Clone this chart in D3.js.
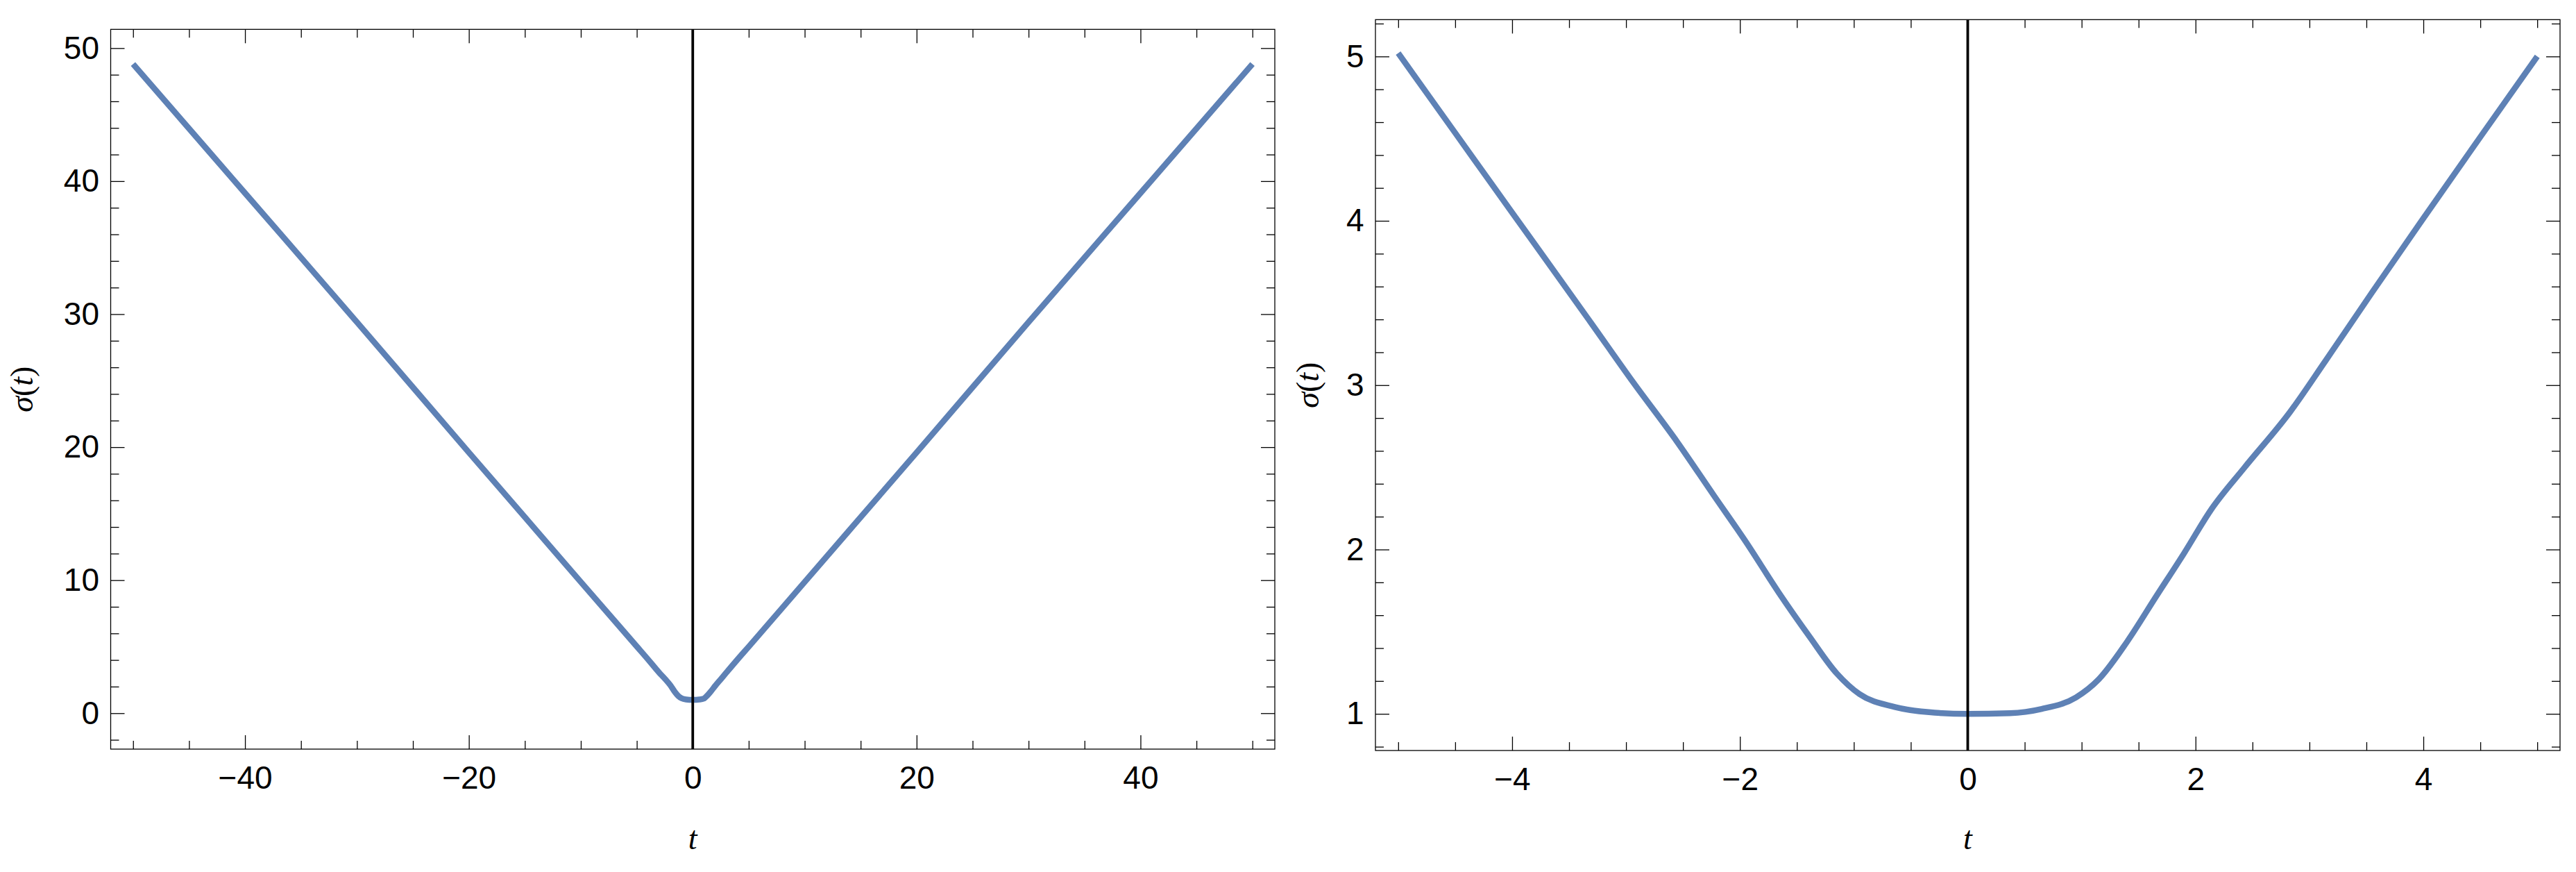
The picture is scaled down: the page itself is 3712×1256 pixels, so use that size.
<!DOCTYPE html>
<html>
<head>
<meta charset="utf-8">
<script src="https://cdn.jsdelivr.net/npm/d3@7"></script>
<style>
  html, body { margin: 0; padding: 0; background: #fff; }
  svg { display: block; }
  .tick text { font-family: "Liberation Sans", Arial, sans-serif; font-size: 46px; fill: #000; }
  .lab { font-family: "Liberation Serif", "Times New Roman", serif; font-size: 46px; fill: #000; }
</style>
</head>
<body>
<svg id="chart" width="3712" height="1256"></svg>
<script>
// ---------- data ----------
// Left panel: t from -50 to 50
const leftT     = [-50, -40, -30, -20, -10, -5, -4, -3, -2.5, -2, -1.6, -1.3, -1, -0.6, 0, 0.6, 1, 1.3, 1.6, 2, 2.5, 3, 4, 5, 10, 20, 30, 40, 50];
const leftSigma = [48.8, 39.1, 29.4, 19.6, 9.87, 5.02, 4.05, 3.05, 2.6, 2.1, 1.6, 1.3, 1.12, 1.03, 1.0, 1.03, 1.1, 1.33, 1.62, 2.05, 2.55, 3.05, 4.04, 5.0, 9.87, 19.6, 29.4, 39.1, 48.8];

// Right panel: t from -5 to 5
const rightT     = [-5, -4.5, -4, -3.67, -3.3, -2.94, -2.55, -2.23, -1.95, -1.66, -1.39, -1.15, -0.95, -0.64, -0.34, 0, 0.37, 0.65, 0.95, 1.15, 1.4, 1.65, 1.9, 2.14, 2.43, 2.83, 3.14, 3.55, 4.0, 4.5, 5.0];
const rightSigma = [5.02, 4.535, 4.05, 3.731, 3.372, 3.02, 2.654, 2.33, 2.049, 1.739, 1.471, 1.246, 1.12, 1.042, 1.01, 1.0, 1.004, 1.03, 1.10, 1.21, 1.44, 1.71, 1.978, 2.246, 2.499, 2.837, 3.147, 3.565, 4.015, 4.51, 5.0];

// ticks
const leftXMajor  = [-40, -20, 0, 20, 40];
const leftXMinor  = d3.range(-50, 50.001, 5).filter(v => v % 20 !== 0);
const leftYMajor  = [0, 10, 20, 30, 40, 50];
const leftYMinor  = d3.range(-2, 50.001, 2).filter(v => v % 10 !== 0);
const rightXMajor = [-4, -2, 0, 2, 4];
const rightXMinor = d3.range(-5, 5.001, 0.5).filter(v => Math.abs(v % 2) > 1e-9);
const rightYMajor = [1, 2, 3, 4, 5];
const rightYMinor = d3.range(0.8, 5.2001, 0.2).filter(v => Math.abs(v - Math.round(v)) > 1e-6);

const xLabel = "t";

// ---------- drawing ----------
const svg = d3.select("#chart");
const fmt = d3.format("");
const blue = "#5E81B5";

function panel(cfg) {
  const { xDom, yDom, x0, x1, y0, y1, T, S, xMaj, xMin, yMaj, yMin, yLabX } = cfg;
  const x = d3.scaleLinear().domain(xDom).range([x0, x1]);
  const y = d3.scaleLinear().domain(yDom).range([y1, y0]);
  const g = svg.append("g");

  const style = sel => {
    sel.select(".domain").remove();
    sel.selectAll(".tick line").attr("stroke", "#000").attr("stroke-width", 1.3);
  };

  // bottom
  g.append("g").attr("transform", `translate(0,${y1})`)
    .call(d3.axisBottom(x).tickValues(xMaj).tickSize(-20).tickPadding(24.5).tickFormat(fmt)).call(style);
  g.append("g").attr("transform", `translate(0,${y1})`)
    .call(d3.axisBottom(x).tickValues(xMin).tickSize(-12).tickFormat("")).call(style);
  // top
  g.append("g").attr("transform", `translate(0,${y0})`)
    .call(d3.axisTop(x).tickValues(xMaj).tickSize(-20).tickFormat("")).call(style);
  g.append("g").attr("transform", `translate(0,${y0})`)
    .call(d3.axisTop(x).tickValues(xMin).tickSize(-12).tickFormat("")).call(style);
  // left
  g.append("g").attr("transform", `translate(${x0},0)`)
    .call(d3.axisLeft(y).tickValues(yMaj).tickSize(-20).tickPadding(16.5).tickFormat(fmt)).call(style);
  g.append("g").attr("transform", `translate(${x0},0)`)
    .call(d3.axisLeft(y).tickValues(yMin).tickSize(-12).tickFormat("")).call(style);
  // right
  g.append("g").attr("transform", `translate(${x1},0)`)
    .call(d3.axisRight(y).tickValues(yMaj).tickSize(-20).tickFormat("")).call(style);
  g.append("g").attr("transform", `translate(${x1},0)`)
    .call(d3.axisRight(y).tickValues(yMin).tickSize(-12).tickFormat("")).call(style);

  // frame
  g.append("rect").attr("x", x0).attr("y", y0).attr("width", x1 - x0).attr("height", y1 - y0)
    .attr("fill", "none").attr("stroke", "#000").attr("stroke-width", 1.3);

  // clip
  const cid = "clip" + Math.round(x0);
  svg.append("clipPath").attr("id", cid).append("rect")
    .attr("x", x0).attr("y", y0).attr("width", x1 - x0).attr("height", y1 - y0);

  // curve
  const data = T.map((t, i) => [t, S[i]]);
  g.append("path").datum(data)
    .attr("clip-path", `url(#${cid})`)
    .attr("fill", "none").attr("stroke", blue).attr("stroke-width", 8.5)
    .attr("stroke-linejoin", "round").attr("stroke-linecap", "butt")
    .attr("d", d3.line().x(d => x(d[0])).y(d => y(d[1])).curve(d3.curveMonotoneX));

  // vertical axis line at t = 0
  g.append("line").attr("x1", x(0)).attr("x2", x(0)).attr("y1", y0).attr("y2", y1)
    .attr("stroke", "#000").attr("stroke-width", 3.8);

  // x label
  g.append("text").attr("class", "lab").attr("x", (x0 + x1) / 2).attr("y", 1223)
    .attr("text-anchor", "middle").attr("font-style", "italic").text(xLabel);

  // y label  σ(t)
  const yl = g.append("text").attr("class", "lab")
    .attr("transform", `translate(${yLabX},${(y0 + y1) / 2}) rotate(-90)`)
    .attr("text-anchor", "middle");
  yl.append("tspan").attr("font-style", "italic").text("σ");
  yl.append("tspan").text("(");
  yl.append("tspan").attr("font-style", "italic").text("t");
  yl.append("tspan").text(")");
}

panel({
  xDom: [-52, 52], yDom: [-2.70, 51.41],
  x0: 159.5, x1: 1837, y0: 42.3, y1: 1079,
  T: leftT, S: leftSigma,
  xMaj: leftXMajor, xMin: leftXMinor, yMaj: leftYMajor, yMin: leftYMinor,
  yLabX: 47
});

panel({
  xDom: [-5.2, 5.2], yDom: [0.777, 5.224],
  x0: 1982, x1: 3689, y0: 28.3, y1: 1081,
  T: rightT, S: rightSigma,
  xMaj: rightXMajor, xMin: rightXMinor, yMaj: rightYMajor, yMin: rightYMinor,
  yLabX: 1900
});
</script>
</body>
</html>
